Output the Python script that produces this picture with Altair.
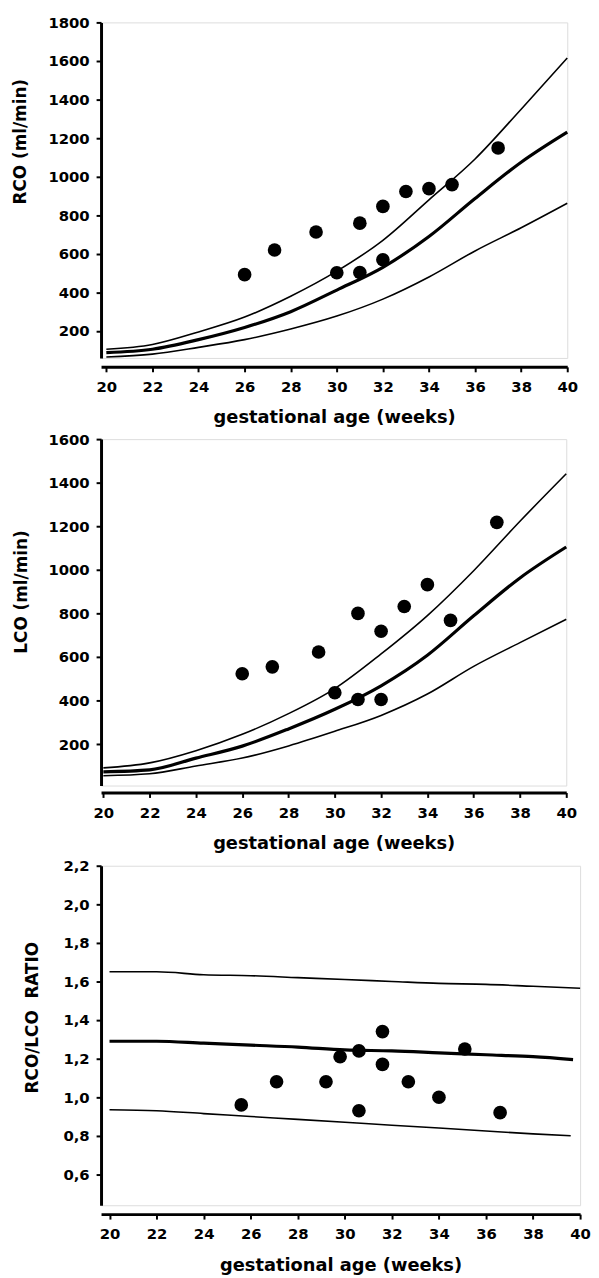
import altair as alt
import pandas as pd

# ---------------- data ----------------
weeks = [20, 22, 24, 26, 28, 30, 32, 34, 36, 38, 40]

rco_upper = [105, 130, 195, 272, 380, 510, 670, 880, 1092, 1350, 1615]
rco_mean = [88, 105, 155, 218, 300, 412, 530, 690, 887, 1075, 1231]
rco_lower = [65, 80, 115, 155, 210, 277, 365, 480, 615, 735, 862]

rco_pt_week = [26.0, 27.3, 29.1, 30.0, 31.0, 31.0, 32.0, 32.0, 33.0, 34.0, 35.0, 37.0]
rco_pt_val = [492, 620, 713, 502, 759, 503, 846, 569, 923, 938, 959, 1149]

lco_upper = [91, 114, 170, 245, 340, 455, 614, 790, 996, 1223, 1441]
lco_mean = [73, 82, 136, 191, 270, 360, 468, 608, 789, 963, 1105]
lco_lower = [55, 64, 100, 136, 192, 259, 332, 430, 557, 666, 773]

lco_pt_week = [26.0, 27.3, 29.3, 30.0, 31.0, 31.0, 32.0, 32.0, 33.0, 34.0, 35.0, 37.0]
lco_pt_val = [523, 555, 623, 436, 800, 405, 718, 405, 832, 932, 768, 1218]

ratio_upper_w = [20, 22, 24, 26, 28, 30, 32, 34, 36, 38, 40]
ratio_upper = [1.65, 1.65, 1.635, 1.63, 1.62, 1.61, 1.60, 1.59, 1.585, 1.575, 1.565]
ratio_mean_w = [20, 22, 24, 26, 28, 30, 32, 34, 36, 38, 39.7]
ratio_mean = [1.29, 1.29, 1.28, 1.27, 1.26, 1.245, 1.24, 1.23, 1.22, 1.21, 1.195]
ratio_lower_w = [20, 22, 24, 26, 28, 30, 32, 34, 36, 38, 39.6]
ratio_lower = [0.935, 0.93, 0.915, 0.90, 0.885, 0.87, 0.855, 0.84, 0.825, 0.81, 0.80]

ratio_pt_week = [25.6, 27.1, 29.2, 29.8, 30.6, 30.6, 31.6, 31.6, 32.7, 34.0, 35.1, 36.6]
ratio_pt_val = [0.96, 1.08, 1.08, 1.21, 1.24, 0.93, 1.34, 1.17, 1.08, 1.00, 1.25, 0.92]

x_ticks = [20, 22, 24, 26, 28, 30, 32, 34, 36, 38, 40]
rco_ticks = [200, 400, 600, 800, 1000, 1200, 1400, 1600, 1800]
lco_ticks = [200, 400, 600, 800, 1000, 1200, 1400, 1600]
ratio_ticks = [0.6, 0.8, 1.0, 1.2, 1.4, 1.6, 1.8, 2.0, 2.2]

FONT = "DejaVu Sans"


def panel(bands, pts_w, pts_v, xdom, ydom, yticks, ytitle, title_x, title_y,
          width, height, xoffset, xtitle_pad, label_expr=None):
    upper_w, upper_v, mean_w, mean_v, lower_w, lower_v = bands
    df_u = pd.DataFrame({"week": upper_w, "value": upper_v})
    df_m = pd.DataFrame({"week": mean_w, "value": mean_v})
    df_l = pd.DataFrame({"week": lower_w, "value": lower_v})
    df_p = pd.DataFrame({"week": pts_w, "value": pts_v})

    yaxis_kw = dict(
        values=yticks, title=ytitle, grid=False,
        domainWidth=3, domainColor="black", tickColor="black", tickWidth=2,
        tickSize=5, labelPadding=7, labelFontSize=15, labelFontWeight="bold",
        labelColor="black", labelFont=FONT,
        titleFont=FONT, titleFontSize=17, titleFontWeight="bold",
        titleColor="black", titleX=title_x, titleY=title_y,
        titleAlign="center", titleBaseline="middle",
    )
    if label_expr is not None:
        yaxis_kw["labelExpr"] = label_expr
    else:
        yaxis_kw["format"] = "d"

    x = alt.X("week:Q",
              scale=alt.Scale(domain=xdom, nice=False, zero=False),
              axis=alt.Axis(values=x_ticks, title="gestational age (weeks)",
                            grid=False, offset=xoffset, domainWidth=3,
                            domainColor="black", tickColor="black",
                            tickWidth=2, tickSize=5, labelPadding=8,
                            labelFontSize=15, labelFontWeight="bold",
                            labelColor="black", labelFont=FONT,
                            titleFont=FONT, titleFontSize=18,
                            titleFontWeight="bold", titleColor="black",
                            titlePadding=xtitle_pad, labelFlush=False))
    y = alt.Y("value:Q",
              scale=alt.Scale(domain=ydom, nice=False, zero=False),
              axis=alt.Axis(**yaxis_kw))

    thin_u = alt.Chart(df_u).mark_line(color="black", strokeWidth=1.6,
                                       interpolate="monotone").encode(x=x, y=y)
    thin_l = alt.Chart(df_l).mark_line(color="black", strokeWidth=1.6,
                                       interpolate="monotone").encode(x=x, y=y)
    thick = alt.Chart(df_m).mark_line(color="black", strokeWidth=3.2,
                                      interpolate="monotone").encode(x=x, y=y)
    dots = alt.Chart(df_p).mark_circle(color="black", size=190,
                                       opacity=1).encode(x=x, y=y)
    return alt.layer(thin_u, thin_l, thick, dots).properties(
        width=width, height=height)


p1 = panel((weeks, rco_upper, weeks, rco_mean, weeks, rco_lower),
           rco_pt_week, rco_pt_val, [19.77, 40], [60, 1800], rco_ticks,
           "RCO (ml/min)", -81, 120, 471, 339, 9, 14)
p2 = panel((weeks, lco_upper, weeks, lco_mean, weeks, lco_lower),
           lco_pt_week, lco_pt_val, [19.9, 40], [10, 1600], lco_ticks,
           "LCO (ml/min)", -80, 154, 470, 350, 7, 15)
p3 = panel((ratio_upper_w, ratio_upper, ratio_mean_w, ratio_mean,
            ratio_lower_w, ratio_lower),
           ratio_pt_week, ratio_pt_val, [19.64, 40], [0.44, 2.2], ratio_ticks,
           "RCO/LCO\u00a0 RATIO", -69, 153, 484, 343, 9, 15,
           label_expr="replace(format(datum.value, '.1f'), '.', ',')")

chart = alt.vconcat(p1, p2, p3, spacing=4).properties(
    padding={"left": 3, "top": 0, "right": 0, "bottom": 0}
).configure_view(stroke=None).configure(background="white")

chart.save("out.html", embed_options={"renderer": "svg", "actions": False})
